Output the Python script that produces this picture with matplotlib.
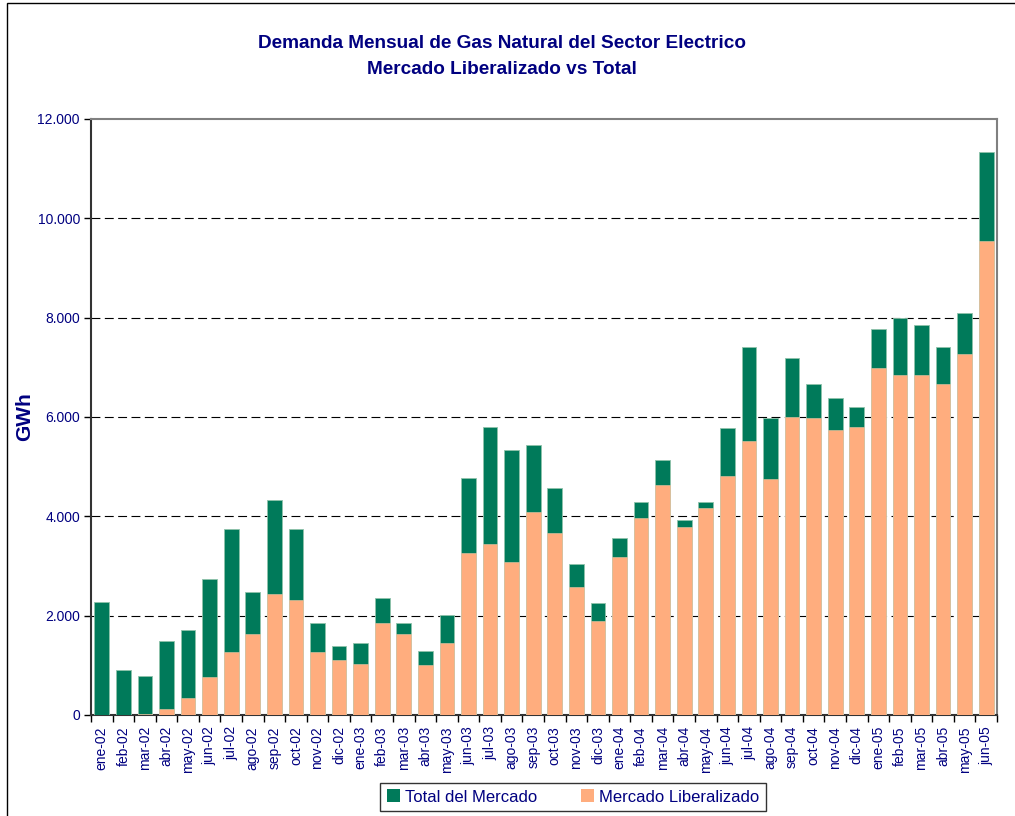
import matplotlib
matplotlib.use("Agg")
import matplotlib.pyplot as plt
import numpy as np
from matplotlib.patches import Rectangle, Patch
from matplotlib.ticker import FuncFormatter

months = ["ene-02", "feb-02", "mar-02", "abr-02", "may-02", "jun-02", "jul-02", "ago-02",
          "sep-02", "oct-02", "nov-02", "dic-02", "ene-03", "feb-03", "mar-03", "abr-03",
          "may-03", "jun-03", "jul-03", "ago-03", "sep-03", "oct-03", "nov-03", "dic-03",
          "ene-04", "feb-04", "mar-04", "abr-04", "may-04", "jun-04", "jul-04", "ago-04",
          "sep-04", "oct-04", "nov-04", "dic-04", "ene-05", "feb-05", "mar-05", "abr-05",
          "may-05", "jun-05"]

total_mercado = [2270, 900, 790, 1480, 1720, 2740, 3740, 2470,
                 4320, 3740, 1850, 1390, 1440, 2350, 1860, 1280,
                 2010, 4780, 5790, 5330, 5440, 4580, 3040, 2260,
                 3560, 4280, 5130, 3930, 4290, 5780, 7400, 5980,
                 7190, 6670, 6380, 6210, 7770, 7990, 7860, 7400,
                 8090, 11330]

mercado_liberalizado = [0, 0, 30, 120, 350, 760, 1260, 1630,
                        2430, 2320, 1270, 1110, 1020, 1860, 1630, 1000,
                        1450, 3260, 3450, 3080, 4090, 3660, 2580, 1900,
                        3180, 3960, 4640, 3780, 4170, 4810, 5520, 4750,
                        5990, 5980, 5730, 5800, 6980, 6850, 6850, 6660,
                        7270, 9540]

yticks = [0, 2000, 4000, 6000, 8000, 10000, 12000]

navy = "#000080"
green = "#007A5A"
salmon = "#FFAD7E"

plt.rcParams["font.family"] = ["Liberation Sans", "DejaVu Sans"]

W, H = 1015, 816
fig = plt.figure(figsize=(W / 100, H / 100), dpi=100)

# outer chart border (left and top visible)
fig.add_artist(Rectangle((7 / W, -0.1), 1.2, 1.1 - 3 / H, transform=fig.transFigure,
                         fill=False, edgecolor="black", linewidth=1.0))

ax = fig.add_axes([91 / W, (H - 715) / H, (997 - 91) / W, (715 - 119) / H])

x = np.arange(len(months))
bw = 0.68
ax.bar(x, total_mercado, width=bw, color=green, edgecolor="#8FC2AA", linewidth=0.6,
       label="Total del Mercado", zorder=3)
ax.bar(x, mercado_liberalizado, width=bw, color=salmon, edgecolor="#E8C9A8", linewidth=0.4,
       label="Mercado Liberalizado", zorder=4)

ax.set_xlim(-0.5, len(months) - 0.5)
ax.set_ylim(0, 12000)
ax.set_yticks(yticks)
ax.yaxis.set_major_formatter(FuncFormatter(lambda v, p: f"{int(v):,}".replace(",", ".")))
ax.tick_params(axis="y", direction="out", length=5, width=1, colors="black",
               labelcolor=navy, labelsize=10, pad=3)

ax.set_xticks(x)
ax.set_xticklabels(months, rotation=90, color=navy, fontsize=10)
ax.set_xticks(np.arange(-0.5, len(months), 1), minor=True)
ax.tick_params(axis="x", which="major", length=0, pad=8)
ax.tick_params(axis="x", which="minor", length=5, width=1, color="black")

for yv in yticks[1:-1]:
    ax.axhline(yv, color="black", linewidth=0.8, linestyle=(0, (8, 4)), zorder=1)

for s in ["left", "bottom"]:
    ax.spines[s].set_color("#333333")
    ax.spines[s].set_linewidth(1.5)
for s in ["top", "right"]:
    ax.spines[s].set_color("#808080")
    ax.spines[s].set_linewidth(1.5)

ax.set_ylabel("GWh", fontsize=15, fontweight="bold", color=navy)
ax.yaxis.set_label_coords(-57 / (997 - 91), 0.5)

fig.text(502 / W, 1 - 43 / H, "Demanda Mensual de Gas Natural del Sector Electrico",
         ha="center", va="center", fontsize=13.7, fontweight="bold", color=navy)
fig.text(502 / W, 1 - 70 / H, "Mercado Liberalizado vs Total",
         ha="center", va="center", fontsize=13.7, fontweight="bold", color=navy)

handles = [Patch(facecolor=green, edgecolor="none"), Patch(facecolor=salmon, edgecolor="none")]
leg = fig.legend(handles, ["Total del Mercado", "Mercado Liberalizado"], loc="center",
                 bbox_to_anchor=(573 / W, 1 - 797 / H), ncol=2, frameon=True, fancybox=False,
                 fontsize=12, handlelength=0.8, handleheight=0.8, handletextpad=0.3,
                 columnspacing=2.6, borderpad=0.4, borderaxespad=0)
leg.get_frame().set_edgecolor("black")
leg.get_frame().set_linewidth(1.0)
for t in leg.get_texts():
    t.set_color(navy)

fig.savefig("out.png", dpi=100)
